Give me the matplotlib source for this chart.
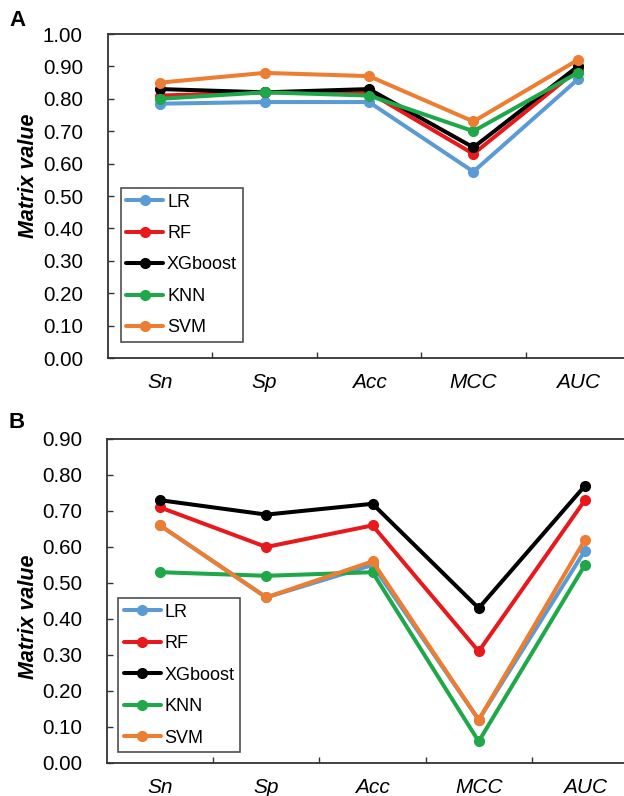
import matplotlib
matplotlib.use("Agg")
import matplotlib.pyplot as plt
import numpy as np

plt.rcParams['font.family'] = ['Liberation Sans', 'DejaVu Sans']

metrics = ['Sn', 'Sp', 'Acc', 'MCC', 'AUC']
models = ['LR', 'RF', 'XGboost', 'KNN', 'SVM']
colors = ['#5B9BD5', '#E8191C', '#000000', '#1FA84A', '#ED7D31']

# panel A
a_lr = [0.785, 0.79, 0.79, 0.575, 0.86]
a_rf = [0.81, 0.82, 0.82, 0.63, 0.89]
a_xgb = [0.83, 0.82, 0.83, 0.65, 0.90]
a_knn = [0.80, 0.82, 0.81, 0.70, 0.88]
a_svm = [0.85, 0.88, 0.87, 0.73, 0.92]

# panel B
b_lr = [0.66, 0.46, 0.55, 0.12, 0.59]
b_rf = [0.71, 0.60, 0.66, 0.31, 0.73]
b_xgb = [0.73, 0.69, 0.72, 0.43, 0.77]
b_knn = [0.53, 0.52, 0.53, 0.06, 0.55]
b_svm = [0.66, 0.46, 0.56, 0.12, 0.62]

W, H = 624, 796
fig = plt.figure(figsize=(W / 100, H / 100), dpi=100)


def draw_panel(ax, series, ymax, yticks, legend_xy):
    x = np.arange(1, len(metrics) + 1)
    for name, vals, c in zip(models, series, colors):
        ax.plot(x, vals, color=c, linewidth=2.9, marker='o', markersize=7,
                label=name, solid_capstyle='round')
    ax.set_xlim(0.5, len(metrics) + 0.5)
    ax.set_ylim(0, ymax)
    ax.set_yticks(yticks)
    ax.set_yticklabels([f"{v:.2f}" for v in yticks], fontsize=14.8)
    # ticks between categories, labels at categories
    ax.set_xticks(np.arange(1.5, len(metrics) + 0.5, 1.0))
    ax.set_xticklabels([])
    ax.set_xticks(x, minor=True)
    ax.set_xticklabels(metrics, minor=True, fontsize=15, style='italic')
    ax.tick_params(axis='x', which='major', direction='in', length=4.5, width=1, color='#333333')
    ax.tick_params(axis='x', which='minor', length=0, pad=11)
    ax.tick_params(axis='y', direction='in', length=4.5, width=1, color='#333333', pad=18)
    for s in ax.spines.values():
        s.set_color('#333333')
        s.set_linewidth(1.3)
    leg = ax.legend(loc='lower left', bbox_to_anchor=legend_xy, borderaxespad=0,
                    fontsize=13, frameon=True, fancybox=False, edgecolor='#222222',
                    handlelength=2.05, handletextpad=0.2, labelspacing=0.8,
                    borderpad=0.3, numpoints=1)
    leg.get_frame().set_linewidth(1.2)


# axes positions measured in pixels
axA = fig.add_axes([108 / W, (H - 358) / H, 522 / W, 324 / H])
draw_panel(axA, [a_lr, a_rf, a_xgb, a_knn, a_svm], 1.0,
           np.round(np.arange(0, 1.01, 0.1), 2), (0.025, 0.05))

axB = fig.add_axes([107 / W, (H - 763) / H, 531 / W, 324 / H])
draw_panel(axB, [b_lr, b_rf, b_xgb, b_knn, b_svm], 0.9,
           np.round(np.arange(0, 0.91, 0.1), 2), (0.021, 0.034))

fig.text(29 / W, 1 - 176 / H, 'Matrix value', rotation=90, ha='center', va='center',
         fontsize=15.5, fontweight='bold', style='italic')
fig.text(29 / W, 1 - 617 / H, 'Matrix value', rotation=90, ha='center', va='center',
         fontsize=15.5, fontweight='bold', style='italic')
fig.text(9 / W, 1 - 21 / H, 'A', fontsize=16, fontweight='bold', va='center')
fig.text(9 / W, 1 - 422 / H, 'B', fontsize=16, fontweight='bold', va='center')

fig.savefig('out.png', dpi=100)
